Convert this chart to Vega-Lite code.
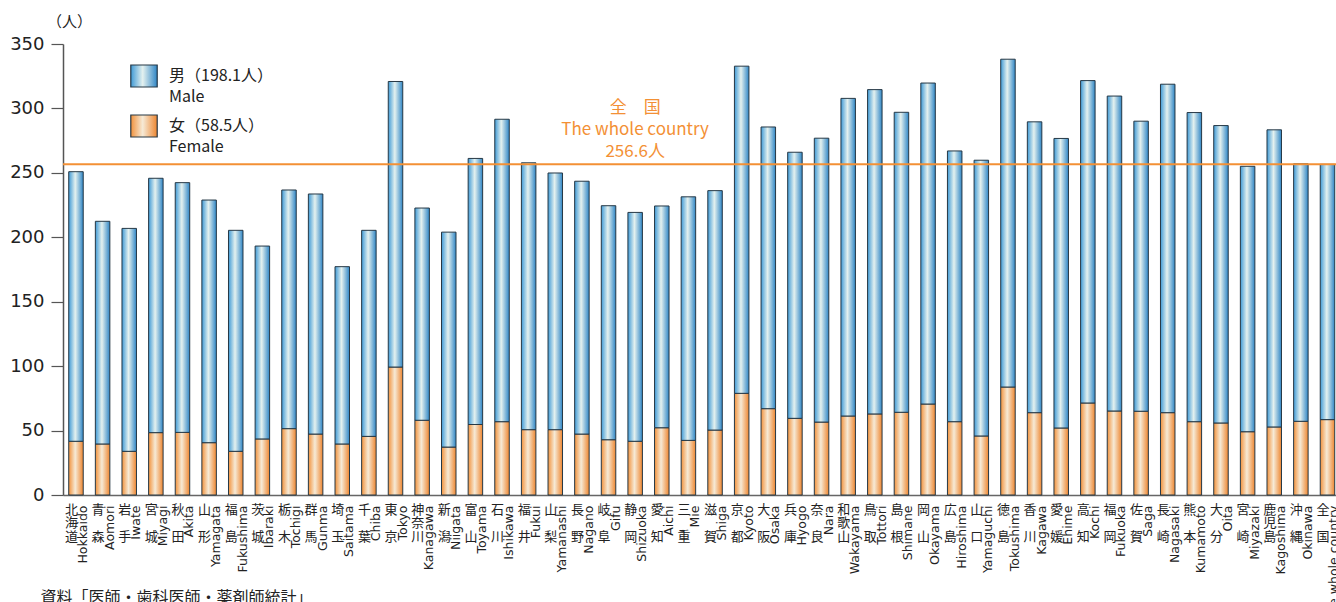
{
  "$schema": "https://vega.github.io/schema/vega-lite/v6.json",
  "width": 1273,
  "height": 451,
  "autosize": "none",
  "padding": {"left": 63, "top": 44, "right": 0, "bottom": 107},
  "background": "white",
  "config": {
    "view": {"stroke": null},
    "font": "Noto Sans CJK JP",
    "style": {"guide-label": {"lineHeight": 21}}
  },
  "data": {
    "values": [
      {"key": "北海道|Hokkaido", "female": 41.7, "male": 209.2},
      {"key": "青森|Aomori", "female": 39.6, "male": 172.8},
      {"key": "岩手|Iwate", "female": 33.9, "male": 173.0},
      {"key": "宮城|Miyagi", "female": 48.4, "male": 197.4},
      {"key": "秋田|Akita", "female": 48.6, "male": 193.8},
      {"key": "山形|Yamagata", "female": 40.6, "male": 188.3},
      {"key": "福島|Fukushima", "female": 33.9, "male": 171.5},
      {"key": "茨城|Ibaraki", "female": 43.5, "male": 149.7},
      {"key": "栃木|Tochigi", "female": 51.5, "male": 185.2},
      {"key": "群馬|Gunma", "female": 47.3, "male": 186.3},
      {"key": "埼玉|Saitama", "female": 39.6, "male": 137.6},
      {"key": "千葉|Chiba", "female": 45.5, "male": 159.9},
      {"key": "東京|Tokyo", "female": 99.3, "male": 221.6},
      {"key": "神奈川|Kanagawa", "female": 58.0, "male": 164.7},
      {"key": "新潟|Niigata", "female": 37.2, "male": 166.8},
      {"key": "富山|Toyama", "female": 54.7, "male": 206.5},
      {"key": "石川|Ishikawa", "female": 56.9, "male": 234.7},
      {"key": "福井|Fukui", "female": 50.7, "male": 207.1},
      {"key": "山梨|Yamanashi", "female": 50.7, "male": 199.2},
      {"key": "長野|Nagano", "female": 47.3, "male": 196.2},
      {"key": "岐阜|Gifu", "female": 42.9, "male": 181.6},
      {"key": "静岡|Shizuoka", "female": 41.7, "male": 177.6},
      {"key": "愛知|Aichi", "female": 52.2, "male": 172.1},
      {"key": "三重|Mie", "female": 42.4, "male": 189.0},
      {"key": "滋賀|Shiga", "female": 50.4, "male": 185.8},
      {"key": "京都|Kyoto", "female": 78.9, "male": 253.9},
      {"key": "大阪|Osaka", "female": 67.0, "male": 218.6},
      {"key": "兵庫|Hyogo", "female": 59.5, "male": 206.5},
      {"key": "奈良|Nara", "female": 56.6, "male": 220.3},
      {"key": "和歌山|Wakayama", "female": 61.3, "male": 246.5},
      {"key": "鳥取|Tottori", "female": 62.9, "male": 251.7},
      {"key": "島根|Shimane", "female": 64.2, "male": 232.8},
      {"key": "岡山|Okayama", "female": 70.6, "male": 249.1},
      {"key": "広島|Hiroshima", "female": 56.9, "male": 210.1},
      {"key": "山口|Yamaguchi", "female": 45.8, "male": 214.0},
      {"key": "徳島|Tokushima", "female": 83.8, "male": 254.4},
      {"key": "香川|Kagawa", "female": 63.9, "male": 225.7},
      {"key": "愛媛|Ehime", "female": 52.0, "male": 224.7},
      {"key": "高知|Kochi", "female": 71.4, "male": 250.2},
      {"key": "福岡|Fukuoka", "female": 65.2, "male": 244.4},
      {"key": "佐賀|Saga", "female": 65.0, "male": 225.1},
      {"key": "長崎|Nagasaki", "female": 63.9, "male": 254.9},
      {"key": "熊本|Kumamoto", "female": 56.9, "male": 239.9},
      {"key": "大分|Oita", "female": 55.9, "male": 230.8},
      {"key": "宮崎|Miyazaki", "female": 49.1, "male": 206.0},
      {"key": "鹿児島|Kagoshima", "female": 52.8, "male": 230.6},
      {"key": "沖縄|Okinawa", "female": 57.2, "male": 199.8},
      {"key": "全国|The whole country", "female": 58.5, "male": 198.1}
    ]
  },
  "layer": [
    {
      "transform": [{"fold": ["female", "male"], "as": ["sex", "value"]}],
      "mark": {"type": "bar", "stroke": "#263845", "strokeWidth": 1},
      "encoding": {
        "x": {
          "field": "key",
          "type": "nominal",
          "sort": null,
          "scale": {"paddingInner": 0.4555, "paddingOuter": 0.131, "align": 0.82},
          "axis": {
            "orient": "bottom",
            "labelExpr": "length(split(datum.value, '|')[0]) == 2 ? [substring(split(datum.value, '|')[0], 0, 1), '\u2800', substring(split(datum.value, '|')[0], 1, 2)] : split(split(datum.value, '|')[0], '')",
            "labelAngle": 0,
            "labelAlign": "center",
            "labelBaseline": "top",
            "labelOffset": -4.5,
            "labelPadding": 8,
            "labelLineHeight": 13.5,
            "labelFontSize": 13,
            "labelColor": "#222222",
            "labelOverlap": false,
            "labelBound": false,
            "labelLimit": 0,
            "ticks": false,
            "grid": false,
            "domain": true,
            "domainColor": "#666666",
            "domainWidth": 1.5,
            "title": "資料「医師・歯科医師・薬剤師統計」",
            "titleX": -23,
            "titleY": 107,
            "titleAlign": "left",
            "titleAnchor": "start",
            "titleBaseline": "alphabetic",
            "titleAngle": 0,
            "titleFontSize": 16,
            "titleFontWeight": "normal",
            "titleColor": "#222222"
          }
        },
        "y": {
          "field": "value",
          "type": "quantitative",
          "stack": "zero",
          "scale": {"domain": [0, 350], "nice": false},
          "axis": {
            "values": [0, 50, 100, 150, 200, 250, 300, 350],
            "grid": false,
            "tickSize": 12,
            "tickColor": "#555555",
            "tickWidth": 1.2,
            "domainColor": "#555555",
            "domainWidth": 1.5,
            "labelFont": "DejaVu Sans",
            "labelFontSize": 18,
            "labelColor": "#222222",
            "labelPadding": 7,
            "title": "（人）",
            "titleAngle": 0,
            "titleX": 6,
            "titleY": -23,
            "titleAlign": "center",
            "titleBaseline": "middle",
            "titleFontSize": 15,
            "titleFontWeight": "normal",
            "titleColor": "#222222"
          }
        },
        "color": {
          "field": "sex",
          "type": "nominal",
          "scale": {
            "domain": ["male", "female"],
            "range": [
              {"expr": "{gradient: 'linear', x1: 0, y1: 0, x2: 1, y2: 0, stops: [{offset: 0, color: '#3f9ad6'}, {offset: 0.45, color: '#e4f1ef'}, {offset: 1, color: '#2f86c6'}]}"},
              {"expr": "{gradient: 'linear', x1: 0, y1: 0, x2: 1, y2: 0, stops: [{offset: 0, color: '#f2923c'}, {offset: 0.45, color: '#f6ead6'}, {offset: 1, color: '#ee8630'}]}"}
            ]
          },
          "legend": {
            "orient": "none",
            "legendX": 69,
            "legendY": 20,
            "direction": "vertical",
            "title": null,
            "padding": 0,
            "symbolType": "M-1.2,-1H1.2V1H-1.2Z",
            "symbolSize": 484,
            "symbolStrokeColor": "#263845",
            "symbolStrokeWidth": 1.2,
            "labelExpr": "datum.value == 'male' ? ['男（198.1人）', 'Male'] : ['女（58.5人）', 'Female']",
            "labelFontSize": 16,
            "labelColor": "#222222",
            "labelOffset": 13,
            "labelBaseline": "middle",
            "labelLimit": 0,
            "rowPadding": 7
          }
        },
        "order": {"field": "sex", "sort": "ascending"}
      }
    },
    {
      "data": {"values": [{"avg": 256.6}]},
      "mark": {"type": "rule", "color": "#f39035", "strokeWidth": 2},
      "encoding": {"y": {"field": "avg", "type": "quantitative"}}
    },
    {
      "data": {"values": [{"key": "静岡|Shizuoka", "avg": 256.6}]},
      "mark": {
        "type": "text",
        "text": ["全　国", "The whole country", "256.6人"],
        "lineHeight": 22,
        "baseline": "bottom",
        "align": "center",
        "dy": -47,
        "fontSize": 17,
        "color": "#f39035"
      },
      "encoding": {
        "x": {
          "field": "key",
          "type": "nominal",
          "sort": null,
          "axis": {
            "orient": "bottom",
            "labelExpr": "split(datum.value, '|')[1]",
            "labelAngle": 270,
            "labelAlign": "right",
            "labelBaseline": "middle",
            "labelPadding": 10,
            "labelOffset": 7,
            "labelFont": "DejaVu Sans",
            "labelFontSize": 12.5,
            "labelColor": "#222222",
            "labelOverlap": false,
            "labelBound": false,
            "labelLimit": 0,
            "domain": false,
            "ticks": false,
            "grid": false,
            "title": null
          }
        },
        "y": {"field": "avg", "type": "quantitative"}
      }
    }
  ],
  "resolve": {"axis": {"x": "independent"}}
}
